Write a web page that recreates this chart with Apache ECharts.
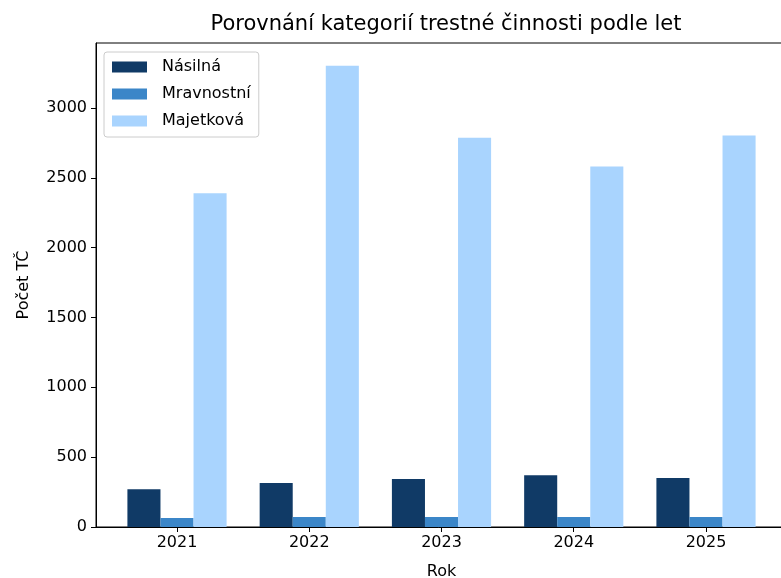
<!DOCTYPE html>
<html>
<head>
<meta charset="utf-8">
<script src="https://cdn.jsdelivr.net/npm/echarts@6/dist/echarts.min.js"></script>
<style>
  html, body { margin: 0; padding: 0; background: #fff; }
  #chart { width: 781px; height: 578px; }
</style>
</head>
<body>
<div id="chart"></div>
<script>
// roky na ose x
var years = ['2021', '2022', '2023', '2024', '2025'];
var yearPos = [0, 1, 2, 3, 4];

// pocty TC podle kategorie
var nasilna = [271, 315, 343, 371, 351];
var mravnostni = [64, 71, 72, 72, 72];
var majetkova = [2390, 3302, 2787, 2581, 2803];

var yTicks = [0, 500, 1000, 1500, 2000, 2500, 3000];

var font = 'DejaVu Sans';

function pairs(vals) {
  return vals.map(function (v, i) { return [yearPos[i], v]; });
}

var chart = echarts.init(document.getElementById('chart'), null, { renderer: 'canvas' });

var option = {
  animation: false,
  backgroundColor: '#ffffff',
  color: ['#103a66', '#3b86c8', '#a9d4fe'],
  textStyle: { fontFamily: font },
  title: {
    text: 'Porovnání kategorií trestné činnosti podle let',
    left: 441,
    textAlign: 'center',
    top: 9,
    textStyle: { fontFamily: font, fontSize: 21, fontWeight: 'normal', color: '#000' }
  },
  legend: {
    orient: 'vertical',
    left: 104,
    top: 52,
    padding: [7, 8, 8, 8],
    itemWidth: 35,
    itemHeight: 11,
    itemGap: 11,
    borderColor: '#cccccc',
    borderWidth: 1,
    borderRadius: 3,
    backgroundColor: '#ffffff',
    icon: 'rect',
    textStyle: { fontFamily: font, fontSize: 16, color: '#000', padding: [0, 0, 0, 10] },
    data: ['Násilná', 'Mravnostní', 'Majetková']
  },
  grid: {
    left: 96,
    right: -6,
    top: 43,
    bottom: 51,
    show: true,
    borderColor: '#000',
    borderWidth: 1,
    containLabel: false,
    outerBoundsMode: 'none'
  },
  xAxis: {
    type: 'value',
    min: -0.6125,
    max: 4.6125,
    name: 'Rok',
    nameLocation: 'middle',
    nameGap: 37,
    nameTextStyle: { fontFamily: font, fontSize: 16, color: '#000' },
    splitLine: { show: false },
    axisLine: { show: true, onZero: false, lineStyle: { color: '#000', width: 1 } },
    axisTick: { show: true, length: 5, lineStyle: { color: '#000' }, customValues: yearPos },
    axisLabel: {
      fontFamily: font, fontSize: 16, color: '#000', margin: 8,
      customValues: yearPos,
      formatter: function (v) { return years[Math.round(v)]; }
    }
  },
  yAxis: {
    type: 'value',
    min: 0,
    max: 3465,
    name: 'Počet TČ',
    nameLocation: 'middle',
    nameGap: 64,
    nameTextStyle: { fontFamily: font, fontSize: 16, color: '#000' },
    splitLine: { show: false },
    axisLine: { show: true, onZero: false, lineStyle: { color: '#000', width: 1 } },
    axisTick: { show: true, length: 5, lineStyle: { color: '#000' }, customValues: yTicks },
    axisLabel: {
      fontFamily: font, fontSize: 16, color: '#000', margin: 9, customValues: yTicks,
      formatter: function (v) { return String(v); }
    }
  },
  series: [
    { name: 'Násilná', type: 'bar', barGap: '0%', barCategoryGap: '25%', data: pairs(nasilna) },
    { name: 'Mravnostní', type: 'bar', data: pairs(mravnostni) },
    { name: 'Majetková', type: 'bar', data: pairs(majetkova) }
  ]
};

chart.setOption(option);
</script>
</body>
</html>
